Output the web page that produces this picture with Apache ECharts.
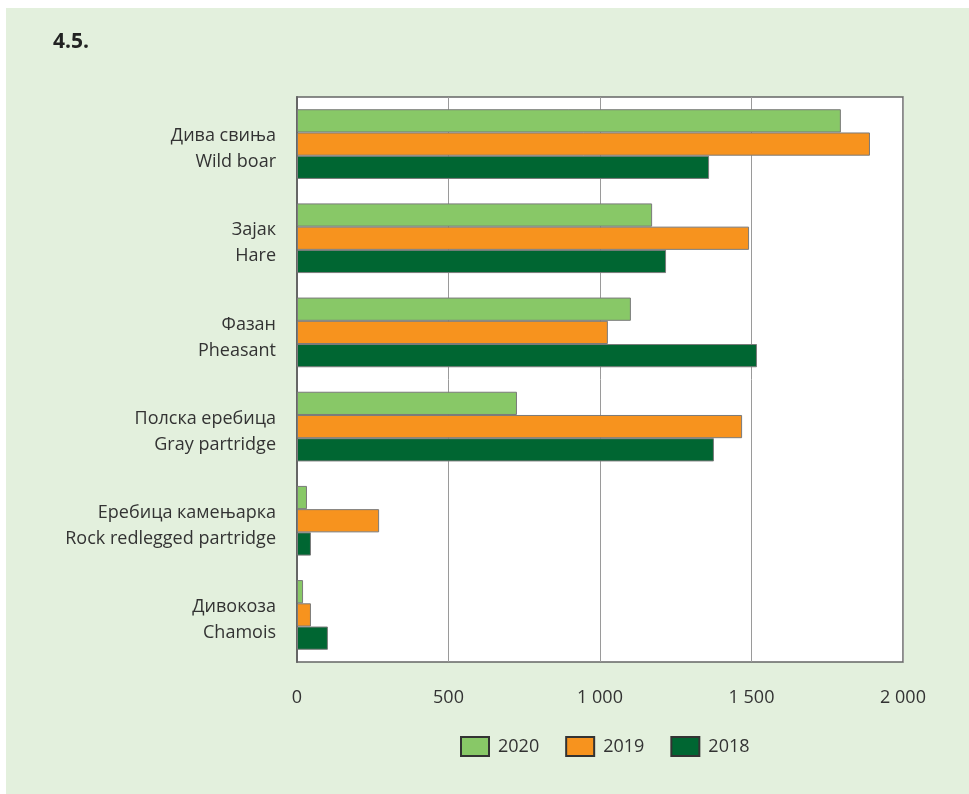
<!DOCTYPE html>
<html><head><meta charset="utf-8">
<script src="https://cdn.jsdelivr.net/npm/echarts@6/dist/echarts.min.js"></script>
<style>html,body{margin:0;padding:0;background:#fff}#c{width:969px;height:794px}</style>
</head><body><div id="c"></div>
<script>
const categories = ['Дива свиња\nWild boar','Зајак\nHare','Фазан\nPheasant','Полска еребица\nGray partridge','Еребица камењарка\nRock redlegged partridge','Дивокоза\nChamois'];
const years = ['2020','2019','2018'];
const v2020 = [1795, 1172, 1102, 726, 33, 20];
const v2019 = [1891, 1492, 1026, 1469, 271, 46];
const v2018 = [1360, 1218, 1518, 1376, 46, 102];
const colors = ['#88c867','#f7931e','#006632'];
const FONT = '"Open Sans", "Noto Sans", sans-serif';
const chart = echarts.init(document.getElementById('c'), null, {renderer:'canvas'});
const mk = (name, data, color) => ({
  name, type:'bar', data, barGap:'0%', barCategoryGap:'26%',
  itemStyle:{color, borderColor:'#7a7a7a', borderWidth:1}
});
chart.setOption({
  backgroundColor:'#ffffff',
  animation:false,
  graphic:[
    {type:'rect', shape:{x:6,y:8,width:963,height:786}, style:{fill:'#e3f0dd'}, z:-10, silent:true},
    {type:'rect', shape:{x:297,y:97,width:606,height:565}, style:{fill:'#ffffff'}, z:-9, silent:true},
    {type:'text', left:53, top:32, style:{text:'4.5.', font:'bold 21px '+FONT, fill:'#222'}}
  ],
  grid:{left:297, top:97, width:606, height:565, show:true, borderColor:'#666', borderWidth:1.5, backgroundColor:'transparent'},
  xAxis:{type:'value', min:0, max:2000, interval:500,
    axisLine:{show:false}, axisTick:{show:false},
    splitLine:{show:true, lineStyle:{color:'#9a9a9a', width:1}},
    axisLabel:{margin:27, fontSize:18, color:'#333', fontFamily:FONT,
      formatter: v => String(v).replace(/\B(?=(\d{3})+(?!\d))/g,' ')}
  },
  yAxis:{type:'category', data:categories, inverse:true,
    axisLine:{show:true, lineStyle:{color:'#666', width:2}}, axisTick:{show:false},
    axisLabel:{margin:21, color:'#333', align:'right',
      formatter: v => '{s| }\n' + v.split('\n').map(l => '{t|' + l + '}').join('\n'),
      rich:{
        s:{fontSize:4, lineHeight:10, fontFamily:FONT},
        t:{fontSize:18, lineHeight:26, color:'#333', fontFamily:FONT, align:'right'}
      }
    }
  },
  legend:{data:years, left:455, top:731, icon:'rect', itemWidth:28, itemHeight:19, itemGap:26,
    textStyle:{fontSize:18, color:'#333', fontFamily:FONT, padding:[0,0,0,4]},
    itemStyle:{borderColor:'#333', borderWidth:2}},
  series:[mk('2020', v2020, colors[0]), mk('2019', v2019, colors[1]), mk('2018', v2018, colors[2])]
});
</script></body></html>
